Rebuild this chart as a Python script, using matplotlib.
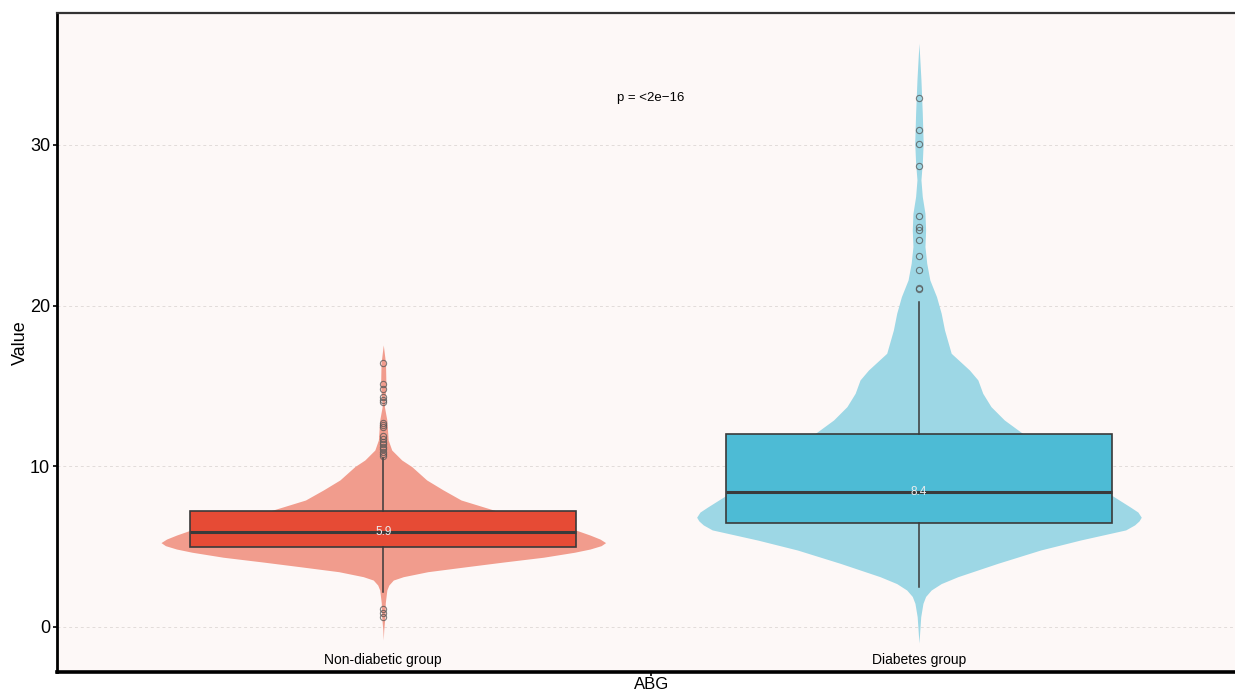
import matplotlib.pyplot as plt

plt.rcParams['font.family'] = ['Liberation Sans', 'DejaVu Sans']

groups = ["Non-diabetic group", "Diabetes group"]
positions = [1, 2]
box_colors = ["#E64B35", "#4DBBD5"]
violin_colors = ["#F19C8D", "#9DD7E5"]

# violin outlines: value levels and relative density (1 = widest point)
red_levels = [17.55, 16.43, 15.06, 13.71, 12.88, 11.64, 11.01, 10.39, 9.98, 9.15,
              8.53, 7.90, 7.22, 6.35, 5.72, 5.47, 5.25, 5.06, 4.85, 4.65,
              4.34, 4.04, 3.75, 3.44, 3.13, 2.92, 2.61, 2.30, 1.49, 0.75,
              -0.19, -0.81]
red_density = [0.0, 0.010, 0.012, 0.005, 0.016, 0.022, 0.038, 0.083, 0.128, 0.195,
               0.269, 0.35, 0.51, 0.80, 0.93, 0.975, 1.0, 0.98, 0.93, 0.86,
               0.72, 0.54, 0.374, 0.20, 0.09, 0.045, 0.025, 0.016, 0.009, 0.008,
               0.002, 0.0]
blue_levels = [36.32, 34.04, 31.97, 30.10, 28.87, 27.82, 26.78, 25.74, 24.70, 23.67,
               22.63, 21.59, 20.55, 19.52, 18.48, 17.03, 15.99, 15.37, 14.54, 13.71,
               12.88, 12.05, 10.39, 9.15, 8.21, 7.47, 7.15, 6.83, 6.60, 6.35,
               6.04, 5.41, 4.79, 3.96, 3.13, 2.70, 2.30, 1.90, 1.47, 0.64,
               -1.0]
blue_density = [0.0, 0.009, 0.015, 0.019, 0.015, 0.009, 0.015, 0.027, 0.030, 0.027,
                0.035, 0.049, 0.079, 0.10, 0.115, 0.145, 0.227, 0.265, 0.287, 0.324,
                0.384, 0.466, 0.60, 0.75, 0.865, 0.95, 0.985, 1.0, 0.99, 0.97,
                0.93, 0.726, 0.547, 0.354, 0.175, 0.10, 0.055, 0.03, 0.018, 0.008,
                0.0]

# box statistics: lower whisker, q1, median, q3, upper whisker
whislo = [2.2, 2.5]
q1 = [4.98, 6.49]
medians = [5.9, 8.4]
q3 = [7.22, 12.0]
whishi = [10.5, 20.2]

red_outliers = [16.41, 15.10, 14.81, 14.29, 14.13, 14.0, 12.71, 12.57, 12.43, 11.91,
                11.70, 11.53, 11.37, 11.22, 11.06, 10.91, 10.77, 10.64, 1.10, 0.85, 0.60]
blue_outliers = [32.9, 30.9, 30.05, 28.7, 25.6, 24.9, 24.7, 24.1, 23.1, 22.2, 21.1, 21.0]

fig = plt.figure(figsize=(12.35, 6.91), dpi=100)
ax = fig.add_axes([0.0462, 0.0275, 0.9538, 0.9537])
ax.set_facecolor("#FDF8F7")

violin_half = 0.415
profiles = [(red_levels, red_density), (blue_levels, blue_density)]
for pos, (lv, dens), col in zip(positions, profiles, violin_colors):
    half = [d * violin_half for d in dens]
    ax.fill_betweenx(lv, [pos - h for h in half], [pos + h for h in half],
                     color=col, linewidth=0, zorder=2)

stats = []
for i, g in enumerate(groups):
    stats.append(dict(label=g, whislo=whislo[i], q1=q1[i], med=medians[i],
                      q3=q3[i], whishi=whishi[i], fliers=[]))

bp = ax.bxp(stats, positions=positions, widths=0.72, patch_artist=True,
            showcaps=False, showfliers=False, manage_ticks=False,
            boxprops=dict(edgecolor="#3A3A3A", linewidth=1.2),
            whiskerprops=dict(color="#3A3A3A", linewidth=1.1),
            medianprops=dict(color="#3A3A3A", linewidth=2.2),
            zorder=3)
for patch, col in zip(bp["boxes"], box_colors):
    patch.set_facecolor(col)

for pos, outl in zip(positions, [red_outliers, blue_outliers]):
    ax.plot([pos] * len(outl), outl, linestyle="none", marker="o", markersize=4.5,
            markerfacecolor="none", markeredgecolor="#555555", markeredgewidth=0.8,
            alpha=0.75, zorder=4)

for pos, m in zip(positions, medians):
    ax.text(pos, m, f"{m:.1f}", ha="center", va="center", fontsize=8.5,
            color="#EDEDED", zorder=5)

for pos, g in zip(positions, groups):
    ax.text(pos, -2.05, g, ha="center", va="center", fontsize=10, color="black")

ax.text(1.5, 32.9, "p = <2e\u221216", ha="center", va="center", fontsize=9.5)

ax.set_xlim(0.391, 2.59)
ax.set_ylim(-2.8, 38.2)
ax.set_yticks([0, 10, 20, 30])
ax.set_xticks([1.5])
ax.set_xticklabels(["ABG"])
ax.tick_params(axis="y", labelsize=13, length=3, width=1.2, pad=2)
ax.tick_params(axis="x", labelsize=12, length=3, width=1.2, pad=0.5)
ax.set_ylabel("Value", fontsize=13, labelpad=1)

ax.grid(axis="y", color="#E2DCDA", linestyle=(0, (3, 3)), linewidth=0.7)
ax.set_axisbelow(True)

ax.spines["right"].set_visible(False)
ax.spines["top"].set_color("#333333")
ax.spines["top"].set_linewidth(1.6)
ax.spines["left"].set_linewidth(2.0)
ax.spines["bottom"].set_linewidth(2.6)

fig.savefig("out.png", dpi=100)
